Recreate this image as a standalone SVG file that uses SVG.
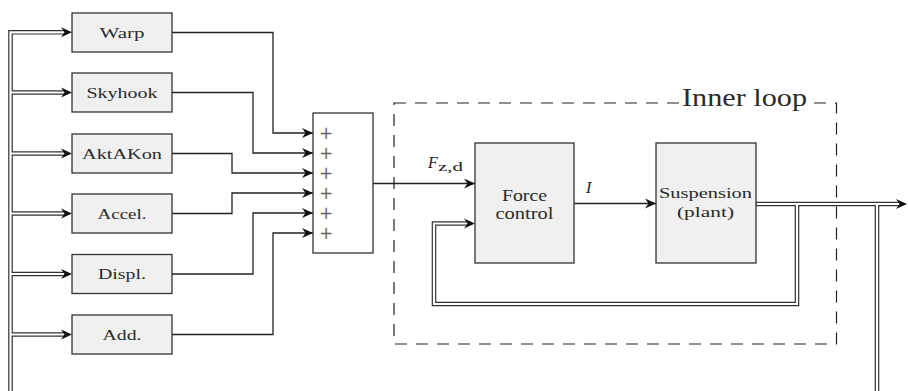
<svg xmlns="http://www.w3.org/2000/svg" width="908" height="391" viewBox="0 0 908 391">
  <defs>
    <style>
      .blk rect { fill: #f0f0f0; stroke: #333; stroke-width: 1.3; }
      .lbl { font-family: "Liberation Serif", "DejaVu Serif", serif; fill: #2a2a2a; text-anchor: middle; }
      .wire { fill: none; stroke: #222; stroke-width: 1.3; }
      .bus-out { fill: none; stroke: #333; stroke-width: 4.6; stroke-linejoin: miter; }
      .bus-in { fill: none; stroke: #fff; stroke-width: 2.2; stroke-linejoin: miter; }
      .plus { font-family: "DejaVu Sans", sans-serif; font-size: 17px; fill: #666; text-anchor: middle; }
    </style>
    <path id="head" d="M0,0 L-11,-5 L-7.5,0 L-11,5 Z" fill="#111"/>
    <marker id="arr" markerUnits="userSpaceOnUse" markerWidth="12" markerHeight="12" viewBox="-11 -6 12 12" refX="0" refY="0" orient="auto">
      <path d="M0,0 L-11,-5 L-7.5,0 L-11,5 Z" fill="#111"/>
    </marker>
  </defs>
  <rect width="908" height="391" fill="#fff"/>

  <!-- inner loop frame -->
  <g id="inner-loop">
    <rect x="394" y="103" width="442.5" height="241" fill="none" stroke="#222" stroke-width="1.2" stroke-dasharray="12 9"/>
    <rect x="680" y="90" width="129" height="22" fill="#fff"/>
    <text x="744.5" y="106" class="lbl" font-size="25" textLength="125" lengthAdjust="spacingAndGlyphs">Inner loop</text>
  </g>

  <!-- signal connectors -->
  <g id="connectors">
    <path class="wire" marker-end="url(#arr)" d="M172,32.5 H273 V133 H313"/>
    <path class="wire" marker-end="url(#arr)" d="M172,92.5 H253 V153 H313"/>
    <path class="wire" marker-end="url(#arr)" d="M172,153.5 H232 V173 H313"/>
    <path class="wire" marker-end="url(#arr)" d="M172,213.5 H232 V193 H313"/>
    <path class="wire" marker-end="url(#arr)" d="M172,274 H253 V213 H313"/>
    <path class="wire" marker-end="url(#arr)" d="M172,334.5 H273 V233 H313"/>
    <path class="wire" marker-end="url(#arr)" d="M373,183.5 H475"/>
    <path class="wire" marker-end="url(#arr)" d="M574,203.5 H656"/>
    <text x="428" y="168" font-family="Liberation Serif, serif" font-size="16" font-style="italic" fill="#222">F</text>
    <text x="438" y="171" font-family="Liberation Serif, serif" font-size="12" fill="#222" textLength="25" lengthAdjust="spacingAndGlyphs">z,d</text>
    <text x="586" y="193" font-family="Liberation Serif, serif" font-size="16" font-style="italic" fill="#222">I</text>

    <!-- double-line measurement buses -->
    <path class="bus-out" d="M65,32.3 H10.5 V391"/>
    <path class="bus-out" d="M10.5,92.5 H65 M10.5,153.5 H65 M10.5,213.5 H65 M10.5,274 H65 M10.5,334.5 H65"/>
    <path class="bus-out" d="M756,204 H900"/>
    <path class="bus-out" d="M797,204 V304 H434 V223.5 H468"/>
    <path class="bus-out" d="M877,204 V391"/>
    <path class="bus-in" d="M65,32.3 H10.5 V392"/>
    <path class="bus-in" d="M10.5,92.5 H65 M10.5,153.5 H65 M10.5,213.5 H65 M10.5,274 H65 M10.5,334.5 H65"/>
    <path class="bus-in" d="M756.7,204 H900"/>
    <path class="bus-in" d="M797,204 V304 H434 V223.5 H468"/>
    <path class="bus-in" d="M877,204 V392"/>
    <use href="#head" x="72" y="32.3"/>
    <use href="#head" x="72" y="92.5"/>
    <use href="#head" x="72" y="153.5"/>
    <use href="#head" x="72" y="213.5"/>
    <use href="#head" x="72" y="274"/>
    <use href="#head" x="72" y="334.5"/>
    <use href="#head" x="907" y="204"/>
    <use href="#head" x="475" y="223.5"/>
  </g>

  <!-- controller blocks -->
  <g id="warp" class="blk"><rect x="72" y="13" width="100" height="39"/><text x="122" y="37.5" class="lbl" font-size="15.5" textLength="45" lengthAdjust="spacingAndGlyphs">Warp</text></g>
  <g id="skyhook" class="blk"><rect x="72" y="73" width="100" height="39"/><text x="122" y="97.5" class="lbl" font-size="15.5" textLength="71" lengthAdjust="spacingAndGlyphs">Skyhook</text></g>
  <g id="aktakon" class="blk"><rect x="72" y="134" width="100" height="39"/><text x="122" y="158.5" class="lbl" font-size="15.5" textLength="80" lengthAdjust="spacingAndGlyphs">AktAKon</text></g>
  <g id="accel" class="blk"><rect x="72" y="194" width="100" height="39"/><text x="122" y="218.5" class="lbl" font-size="15.5" textLength="49" lengthAdjust="spacingAndGlyphs">Accel.</text></g>
  <g id="displ" class="blk"><rect x="72" y="254.5" width="100" height="39"/><text x="122" y="279" class="lbl" font-size="15.5" textLength="48" lengthAdjust="spacingAndGlyphs">Displ.</text></g>
  <g id="add" class="blk"><rect x="72" y="315" width="100" height="39"/><text x="122" y="339.5" class="lbl" font-size="15.5" textLength="39" lengthAdjust="spacingAndGlyphs">Add.</text></g>

  <!-- summation block -->
  <g id="sum">
    <rect x="313" y="113" width="60" height="140" fill="#fff" stroke="#333" stroke-width="1.3"/>
    <text class="plus" x="326" y="139">+</text>
    <text class="plus" x="326" y="159">+</text>
    <text class="plus" x="326" y="179">+</text>
    <text class="plus" x="326" y="199">+</text>
    <text class="plus" x="326" y="219">+</text>
    <text class="plus" x="326" y="239">+</text>
  </g>

  <g id="force-control" class="blk">
    <rect x="475" y="143" width="99" height="120"/>
    <text x="524.5" y="200.5" class="lbl" font-size="16" textLength="45" lengthAdjust="spacingAndGlyphs">Force</text>
    <text x="524.5" y="219" class="lbl" font-size="16" textLength="58" lengthAdjust="spacingAndGlyphs">control</text>
  </g>

  <g id="suspension" class="blk">
    <rect x="656" y="143" width="100" height="120"/>
    <text x="705.5" y="198" class="lbl" font-size="15" textLength="93" lengthAdjust="spacingAndGlyphs">Suspension</text>
    <text x="705.5" y="216.5" class="lbl" font-size="15" textLength="57" lengthAdjust="spacingAndGlyphs">(plant)</text>
  </g>
</svg>
